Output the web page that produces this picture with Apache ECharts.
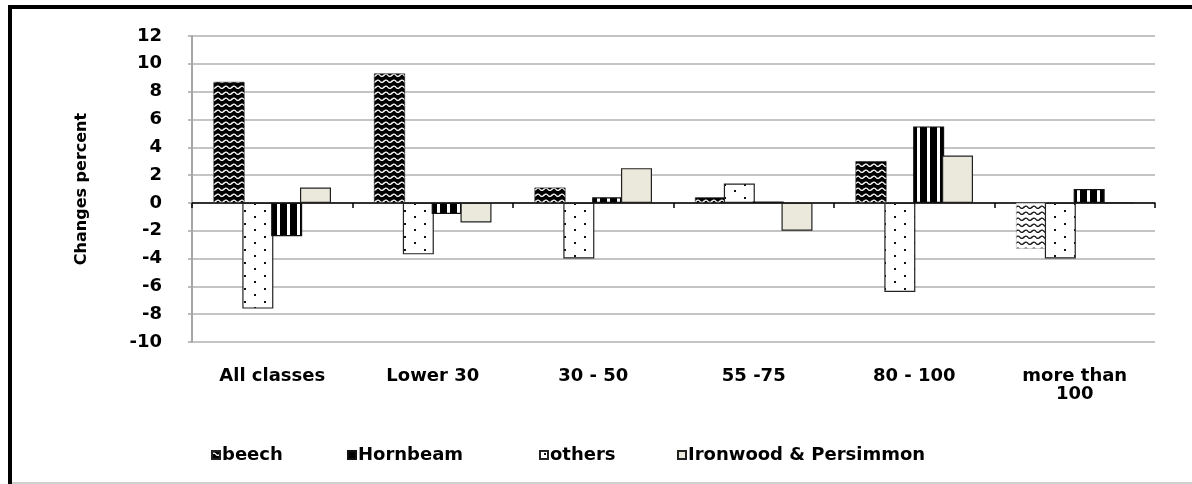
<!DOCTYPE html>
<html>
<head>
<meta charset="utf-8">
<script src="https://cdn.jsdelivr.net/npm/echarts@6/dist/echarts.min.js"></script>
<style>
  html, body { margin: 0; padding: 0; background: #ffffff; }
  #chart { width: 1192px; height: 484px; }
</style>
</head>
<body>
<div id="chart"></div>
<script>
// Diameter classes and the change (%) in each species group
const categories = ['All classes', 'Lower 30', '30 - 50', '55 -75', '80 - 100', 'more than\n100'];
const beech    = [8.7, 9.3, 1.1, 0.4, 3.0, -3.3];
const others   = [-7.6, -3.7, -4.0, 1.4, -6.4, -4.0];
const hornbeam = [-2.4, -0.8, 0.4, 0.1, 5.5, 1.0];
const ironwood = [1.1, -1.4, 2.5, -2.0, 3.4, 0];
const yTicks   = { min: -10, max: 12, step: 2 };

const FONT = 'DejaVu Sans';

// ---- hatch fills drawn on small tiles ----
function tile(w, h, draw) {
  const c = document.createElement('canvas');
  c.width = w; c.height = h;
  draw(c.getContext('2d'), w, h);
  return { image: c, repeat: 'repeat' };
}
function wave(bg, fg) {
  return tile(8, 6, (g, w, h) => {
    g.fillStyle = bg; g.fillRect(0, 0, w, h);
    g.strokeStyle = fg; g.lineWidth = 1.3;
    g.beginPath();
    g.moveTo(-1, 4.6);
    g.quadraticCurveTo(2, 0.2, 4, 3.4);
    g.quadraticCurveTo(6, 6.2, 9, 1.6);
    g.stroke();
  });
}
const zigzag    = wave('#000000', '#ffffff');
const zigzagInv = wave('#ffffff', '#111111');
const stripes = tile(10, 4, (g) => {
  g.fillStyle = '#ffffff'; g.fillRect(0, 0, 10, 4);
  g.fillStyle = '#000000'; g.fillRect(0, 0, 7, 4);
});
const dots = tile(20, 13, (g) => {
  g.fillStyle = '#ffffff'; g.fillRect(0, 0, 20, 13);
  g.fillStyle = '#111111';
  g.fillRect(4, 2, 2, 2);
  g.fillRect(14, 8, 2, 2);
});
const beige = '#ebe8dc';

const barBase = {
  type: 'bar',
  barWidth: 31,
  barGap: '-7%',
  barCategoryGap: '27%',
  xAxisIndex: 0,
  emphasis: { disabled: true }
};

const chart = echarts.init(document.getElementById('chart'), null, { renderer: 'canvas' });

const legendCommon = {
  top: 446,
  padding: 0,
  itemWidth: 8,
  itemHeight: 8,
  icon: 'rect',
  selectedMode: false,
  textStyle: { fontFamily: FONT, fontWeight: 'bold', fontSize: 18, color: '#000', padding: [0, 0, 0, -3] }
};

chart.setOption({
  backgroundColor: '#ffffff',
  animation: false,
  graphic: [
    { type: 'rect', shape: { x: 8, y: 5, width: 1184, height: 4 }, style: { fill: '#000' }, silent: true },
    { type: 'rect', shape: { x: 8, y: 5, width: 4, height: 479 }, style: { fill: '#000' }, silent: true },
    { type: 'rect', shape: { x: 12, y: 482, width: 1180, height: 2 }, style: { fill: '#d0d0d0' }, silent: true }
  ],
  legend: [
    Object.assign({ left: 211, data: ['beech'] }, legendCommon),
    Object.assign({ left: 347, data: ['Hornbeam'] }, legendCommon),
    Object.assign({ left: 539, data: ['others'] }, legendCommon),
    Object.assign({ left: 677, data: ['Ironwood & Persimmon'] }, legendCommon)
  ],
  grid: { left: 192, right: 37, top: 36, bottom: 142 },
  xAxis: [
    {
      type: 'category',
      data: categories,
      axisLine: { onZero: true, lineStyle: { color: '#000', width: 1.5 } },
      axisTick: { show: true, length: 5, lineStyle: { color: '#000', width: 1.5 } },
      axisLabel: { show: false },
      splitLine: { show: false }
    },
    {
      type: 'category',
      data: categories,
      position: 'bottom',
      axisLine: { show: false, onZero: false },
      axisTick: { show: false },
      axisLabel: {
        margin: 25,
        interval: 0,
        fontFamily: FONT, fontWeight: 'bold', fontSize: 18, lineHeight: 18, color: '#000'
      },
      splitLine: { show: false }
    }
  ],
  yAxis: {
    type: 'value',
    min: yTicks.min,
    max: yTicks.max,
    interval: yTicks.step,
    name: 'Changes percent',
    nameLocation: 'middle',
    nameRotate: 90,
    nameGap: 102,
    nameTextStyle: { fontFamily: FONT, fontWeight: 'bold', fontSize: 16, color: '#000' },
    axisLine: { show: true, lineStyle: { color: '#a6a6a6', width: 2 } },
    axisTick: { show: true, length: 4, lineStyle: { color: '#a6a6a6', width: 1.5 } },
    axisLabel: {
      margin: 30,
      fontFamily: FONT, fontWeight: 'bold', fontSize: 18, color: '#000'
    },
    splitLine: { show: true, lineStyle: { color: '#c4c4c4', width: 2 } }
  },
  series: [
    Object.assign({}, barBase, {
      name: 'beech',
      data: beech.map(v => v < 0 ? { value: v, itemStyle: { color: zigzagInv, borderColor: '#bbbbbb' } } : v),
      itemStyle: { color: zigzag, borderColor: '#222', borderWidth: 0.6 }
    }),
    Object.assign({}, barBase, {
      name: 'others',
      data: others,
      itemStyle: { color: dots, borderColor: '#222', borderWidth: 1.2 }
    }),
    Object.assign({}, barBase, {
      name: 'Hornbeam',
      data: hornbeam,
      itemStyle: { color: stripes, borderColor: '#111', borderWidth: 1.2 }
    }),
    Object.assign({}, barBase, {
      name: 'Ironwood & Persimmon',
      data: ironwood,
      itemStyle: { color: beige, borderColor: '#222', borderWidth: 1.2 }
    })
  ]
});
</script>
</body>
</html>
